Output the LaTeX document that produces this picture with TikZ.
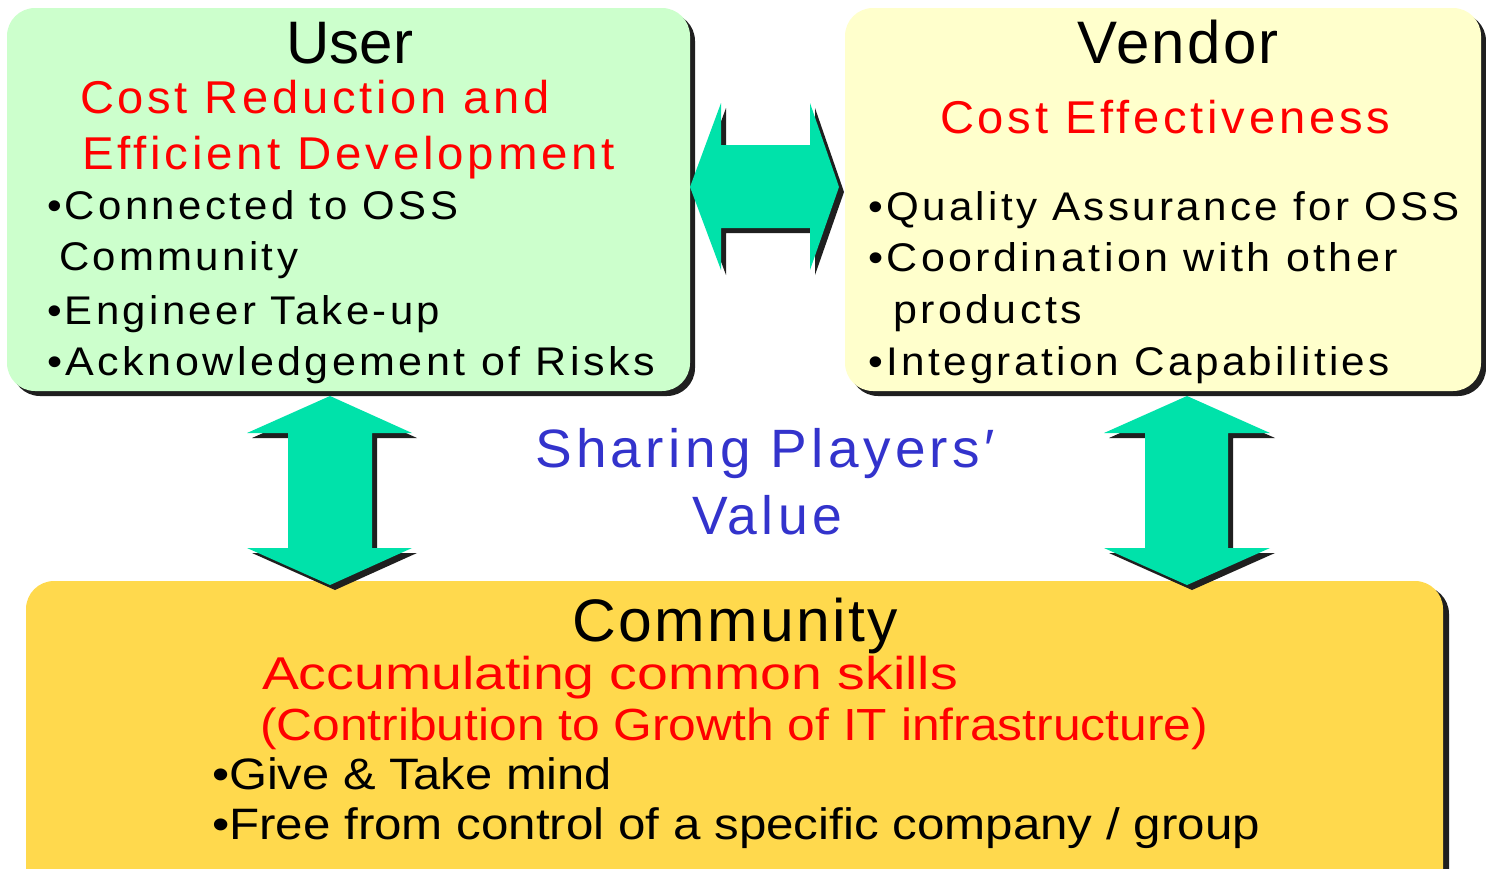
\documentclass[tikz,border=0pt]{standalone}
\usepackage{fontspec}
\setmainfont{Liberation Sans}
\newfontfamily\spacedfont[LetterSpace=8]{Liberation Sans}
\newfontfamily\lightspaced[LetterSpace=4]{Liberation Sans}
\usepackage{graphicx}
\definecolor{usergreen}{RGB}{204,255,204}
\definecolor{vendoryellow}{RGB}{255,255,204}
\definecolor{commyellow}{RGB}{255,217,77}
\definecolor{arrowgreen}{RGB}{0,226,170}
\definecolor{txtred}{RGB}{255,0,0}
\definecolor{txtblue}{RGB}{51,51,204}
\newcommand{\fsz}[1]{\fontsize{#1}{#1}\selectfont}
\newcommand{\fitw}[2]{\resizebox{#1pt}{\height}{#2}}
\tikzset{
  panel/.style={rounded corners=28pt},
  shadowfill/.style={fill=black!88},
  txt/.style={inner sep=0pt, outer sep=0pt, anchor=base west},
  ttl/.style={inner sep=0pt, outer sep=0pt, anchor=base},
  bigarrow/.style={fill=arrowgreen},
}
\begin{document}
\begin{tikzpicture}[x=1pt,y=-1pt]
\useasboundingbox (0,0) rectangle (1486,868);
% shadows
\fill[shadowfill,panel] (12,13) rectangle (695,396);
\fill[shadowfill,panel] (850,13) rectangle (1486,396);
\fill[shadowfill,panel] (32,586) rectangle (1449,900);
% panels
\fill[usergreen,panel] (7,8) rectangle (690,391);
\fill[vendoryellow,panel] (845,8) rectangle (1481,391);
\fill[commyellow,panel] (26,581) rectangle (1443,900);
% arrows: shadows
\begin{scope}[shift={(5,5)}]
\fill[shadowfill] (690,187) -- (721,103) -- (721,145) -- (810,145) -- (810,103) -- (839,187) -- (810,270) -- (810,228) -- (721,228) -- (721,270) -- cycle;
\fill[shadowfill] (330,396) -- (412,433) -- (372,433) -- (372,548) -- (412,548) -- (330,585) -- (247,548) -- (288,548) -- (288,433) -- (247,433) -- cycle;
\fill[shadowfill] (1187,396) -- (1270,433) -- (1228,433) -- (1228,548) -- (1270,548) -- (1187,585) -- (1104,548) -- (1145,548) -- (1145,433) -- (1104,433) -- cycle;
\end{scope}
% arrows
\fill[bigarrow] (690,187) -- (721,103) -- (721,145) -- (810,145) -- (810,103) -- (839,187) -- (810,270) -- (810,228) -- (721,228) -- (721,270) -- cycle;
\fill[bigarrow] (330,396) -- (412,433) -- (372,433) -- (372,548) -- (412,548) -- (330,585) -- (247,548) -- (288,548) -- (288,433) -- (247,433) -- cycle;
\fill[bigarrow] (1187,396) -- (1270,433) -- (1228,433) -- (1228,548) -- (1270,548) -- (1187,585) -- (1104,548) -- (1145,548) -- (1145,433) -- (1104,433) -- cycle;
% User
\node[ttl] (usert) at (350,63) {\fsz{60}User};
\node[txt,text=txtred] (u1) at (80,113) {\fsz{46}\spacedfont\fitw{470}{Cost Reduction and}};
\node[txt,text=txtred] (u2) at (82,169) {\fsz{46}\spacedfont\fitw{533}{Efficient Development}};
\node[txt] (u3) at (47,219) {\fsz{40}\spacedfont\fitw{411}{•Connected to OSS}};
\node[txt] (u4) at (59,270) {\fsz{40}\spacedfont\fitw{239}{Community}};
\node[txt] (u5) at (47,324) {\fsz{40}\spacedfont\fitw{393}{•Engineer Take-up}};
\node[txt] (u6) at (47,375) {\fsz{40}\spacedfont\fitw{608}{•Acknowledgement of Risks}};
% Vendor
\node[ttl] (vendort) at (1178,63) {\fsz{60}\lightspaced\fitw{202}{Vendor}};
\node[txt,text=txtred] (v1) at (940,133) {\fsz{46}\spacedfont\fitw{450}{Cost Effectiveness}};
\node[txt] (v2) at (868,220) {\fsz{40}\spacedfont\fitw{592}{•Quality Assurance for OSS}};
\node[txt] (v3) at (868,271) {\fsz{40}\spacedfont\fitw{530}{•Coordination with other}};
\node[txt] (v4) at (893,323) {\fsz{40}\spacedfont\fitw{189}{products}};
\node[txt] (v5) at (868,375) {\fsz{40}\spacedfont\fitw{522}{•Integration Capabilities}};
% center
\node[txt,text=txtblue] (s1) at (535,467) {\fsz{54}\spacedfont\fitw{460}{Sharing Players′}};
\node[txt,text=txtblue] (s2) at (692,534) {\fsz{54}\spacedfont\fitw{150}{Value}};
% Community
\node[ttl] (commt) at (735,641) {\fsz{60}\lightspaced\fitw{326}{Community}};
\node[txt,text=txtred] (c1) at (262,689) {\fsz{46}\fitw{696}{Accumulating common skills}};
\node[txt,text=txtred] (c2) at (260,740) {\fsz{45}\fitw{948}{(Contribution to Growth of IT infrastructure)}};
\node[txt] (c3) at (212,789) {\fsz{44}\fitw{400}{•Give \& Take mind}};
\node[txt] (c4) at (212,839) {\fsz{44}\fitw{1048}{•Free from control of a specific company / group}};
\end{tikzpicture}
\end{document}
